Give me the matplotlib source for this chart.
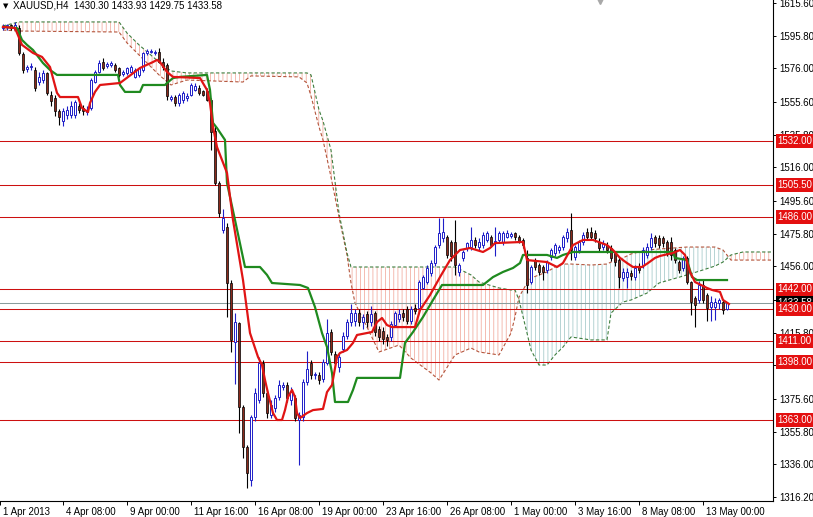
import numpy as np
import matplotlib
matplotlib.use('Agg')
import matplotlib.pyplot as plt
from matplotlib.transforms import ScaledTranslation, blended_transform_factory

# XAUUSD H4 candles, one entry per bar
opens = [1600.5, 1600.8, 1602, 1600, 1600.5, 1584.7, 1575.5, 1576.5, 1575, 1568,
         1569, 1573, 1560, 1558, 1550, 1544, 1548, 1548, 1547.7, 1553,
         1552, 1549.5, 1552, 1568, 1574, 1580, 1577.5, 1578, 1578, 1576,
         1572.5, 1573, 1574, 1571, 1572, 1575, 1585.5, 1586, 1585.5, 1586,
         1580, 1578, 1557.5, 1558.6, 1555, 1557, 1558, 1560, 1563, 1564,
         1562, 1562.5, 1557, 1538, 1506.5, 1478, 1480, 1446, 1410, 1421.7,
         1370.8, 1346.5, 1326.5, 1364.7, 1375, 1397.4, 1379, 1366, 1370, 1377,
         1383, 1384, 1375, 1376, 1363, 1364.7, 1386, 1397.4, 1390, 1390,
         1388, 1397.4, 1416, 1403, 1395, 1406, 1414, 1422, 1423, 1428,
         1422, 1427, 1422, 1427.7, 1418, 1417, 1413, 1413, 1420.6, 1424,
         1428, 1430, 1423, 1431, 1430.7, 1443, 1446.5, 1452, 1458, 1469,
         1473.2, 1473.8, 1470.8, 1470.8, 1452.6, 1461, 1467, 1467.7, 1472, 1467.7,
         1469, 1472, 1473.8, 1470.8, 1472, 1470.8, 1473.8, 1474.5, 1476.2, 1473.8,
         1472, 1461.1, 1446.5, 1459.8, 1456.8, 1455.6, 1453.8, 1461.7, 1464.1, 1466,
         1467.7, 1473.2, 1478, 1461.7, 1466, 1470.8, 1476.8, 1477, 1476, 1471,
         1467.7, 1469, 1467, 1464, 1459.8, 1449, 1449.5, 1452, 1449.5, 1455.6,
         1456.8, 1462.9, 1467.7, 1473.8, 1473.2, 1473.2, 1470.8, 1470.8, 1465.9, 1458.6,
         1455, 1461.1, 1446.5, 1436.8, 1435.6, 1444.7, 1438.6, 1431.3, 1431.3, 1434,
         1434.4, 1430.30]
highs = [1603, 1603, 1603, 1604, 1602, 1586, 1578, 1579, 1577, 1574,
         1575, 1574, 1562, 1560, 1551.5, 1552, 1553, 1556, 1557, 1555,
         1554, 1553, 1570, 1575, 1581, 1582, 1580, 1580.5, 1579.5, 1577,
         1575, 1577, 1578, 1576, 1577, 1586, 1588, 1587.5, 1587, 1588.5,
         1582, 1579, 1560, 1560, 1561, 1562, 1561, 1567, 1567, 1566,
         1563, 1564, 1558, 1541, 1508, 1491, 1482, 1448, 1427.7, 1422,
         1372, 1348, 1366, 1382, 1401, 1399, 1381, 1375, 1378, 1387,
         1386, 1386, 1383, 1378, 1368, 1388, 1405, 1399, 1392, 1392,
         1400, 1424, 1418, 1405, 1403, 1416, 1424, 1433, 1430, 1430,
         1427, 1429, 1432, 1429, 1420, 1419, 1415, 1423, 1429, 1430,
         1430, 1432, 1432, 1433, 1448, 1451, 1457, 1460, 1469, 1485.3,
         1485.3, 1475, 1472, 1484, 1458, 1466, 1471, 1480, 1474, 1473,
         1477, 1477.5, 1475, 1480, 1477.5, 1477.5, 1478, 1477, 1477, 1475,
         1473, 1466, 1457, 1461, 1458, 1457, 1460, 1467, 1470, 1469,
         1475, 1479, 1488.3, 1469, 1472, 1477, 1479, 1480, 1478, 1473,
         1472, 1471, 1469, 1465, 1461, 1455, 1455, 1454, 1457, 1458,
         1468, 1470, 1476, 1475, 1475, 1474.5, 1472, 1474, 1467, 1460,
         1462, 1462, 1447, 1438, 1447, 1448, 1440, 1438, 1437, 1437,
         1436, 1433.93]
lows = [1599, 1599.5, 1599, 1599.5, 1584, 1573, 1574, 1575, 1562, 1566,
        1567, 1560, 1553, 1547, 1541.7, 1541, 1545, 1546, 1546, 1549,
        1548, 1548, 1551, 1567, 1573, 1575, 1576, 1577, 1574, 1571,
        1571.5, 1572, 1573, 1570, 1571, 1574, 1584, 1585, 1584, 1579,
        1575, 1557, 1556, 1553, 1553, 1555, 1556, 1559, 1562, 1560,
        1559, 1556, 1526.5, 1505, 1486, 1476, 1425, 1404, 1385, 1355,
        1340, 1321.7, 1323, 1362, 1373, 1377, 1364, 1364, 1368, 1375,
        1381, 1374, 1372, 1362, 1335.6, 1362, 1384, 1388, 1388, 1385,
        1386, 1396, 1402, 1396, 1392, 1404, 1412, 1420, 1420, 1420,
        1418, 1419, 1420, 1414, 1411, 1409, 1408, 1411, 1419, 1422,
        1423, 1421, 1421, 1427, 1429, 1442, 1445, 1450, 1456, 1467,
        1471, 1461, 1459, 1451, 1450, 1459, 1465, 1466, 1467, 1466,
        1467, 1471, 1468, 1462, 1471, 1469, 1473, 1473, 1472, 1470,
        1467, 1440, 1445, 1454, 1451, 1447.7, 1452, 1460, 1462, 1464,
        1466, 1471, 1459.8, 1460, 1464, 1469, 1472, 1472, 1471, 1465,
        1466, 1464, 1459, 1456, 1442.9, 1447, 1443, 1448, 1448, 1452,
        1455, 1461, 1466, 1468, 1467, 1468, 1462, 1460, 1458, 1452,
        1453, 1445, 1426.5, 1419.2, 1434, 1434, 1423, 1423, 1423.5, 1430,
        1427, 1429.75]
closes = [1601.5, 1602, 1600.5, 1602.5, 1585.3, 1575, 1576.5, 1577.5, 1564, 1571,
          1573, 1561, 1556, 1550, 1546.5, 1550, 1551, 1553, 1555.6, 1551,
          1550, 1551, 1569, 1573.8, 1579, 1576, 1578.5, 1579, 1575, 1572,
          1573.5, 1576, 1577, 1575, 1576, 1585, 1586.5, 1586.5, 1586, 1580,
          1577, 1559, 1558.5, 1555, 1560, 1561, 1559, 1566, 1565, 1561,
          1560, 1557, 1537.4, 1506.5, 1488.5, 1485, 1446, 1411.4, 1422, 1370.8,
          1346.5, 1330.8, 1364.7, 1379, 1397.4, 1379, 1367, 1372, 1376, 1384,
          1384, 1376, 1380, 1364, 1366, 1386, 1394, 1390, 1390.5, 1387,
          1398, 1415.6, 1404, 1397.4, 1401, 1414, 1422, 1427.7, 1428, 1422,
          1425, 1422, 1427, 1416, 1413, 1412, 1411.5, 1421, 1427.7, 1427,
          1425, 1423, 1430, 1429, 1446.5, 1449.5, 1455, 1458, 1467.7, 1476.2,
          1476.8, 1462.9, 1462, 1456.8, 1456.8, 1464.7, 1470, 1472, 1469, 1470.8,
          1475, 1476.2, 1469, 1471.5, 1476.2, 1476.2, 1476.2, 1475.5, 1473.8, 1470.8,
          1469, 1444.7, 1455.6, 1455.6, 1452.6, 1452.6, 1458.6, 1465.9, 1468.9, 1467.7,
          1473.8, 1476.8, 1466, 1467.7, 1470.8, 1475, 1473.8, 1474, 1473, 1467,
          1470, 1466, 1461, 1458.6, 1449.5, 1452.6, 1452.6, 1450, 1455, 1453.8,
          1465.9, 1467.7, 1473.2, 1470.1, 1468.9, 1470.1, 1464.1, 1462.9, 1459.8, 1453.8,
          1461.1, 1446.5, 1434.4, 1432.5, 1444.7, 1435.6, 1430.7, 1434.4, 1434.4, 1435.6,
          1429.5, 1433.58]

# Ichimoku lines, as vertices (bar position, price)
tenkan_bar = [0, 3, 4.75, 7.5, 9.75, 11.75, 13.5, 14.25, 18.75, 19.75,
              21.25, 21.75, 23, 24.25, 29.25, 34.25, 37.5, 38.5, 39.25, 41,
              42.5, 49.25, 51, 51.75, 52.5, 53.5, 56, 57.5, 60, 61.75,
              63.75, 64.75, 65.5, 66.25, 67.5, 68.5, 69.75, 70.5, 71.25, 72.25,
              73, 73.5, 74.25, 76, 77.5, 80, 81, 82.25, 83.5, 84.25,
              86, 87.5, 88.5, 92.25, 93.5, 94.75, 96, 97.25, 103, 104.25,
              106.75, 109.25, 111.75, 114.25, 116.75, 120, 121.75, 123, 130, 131,
              136, 138.5, 140, 142.5, 145, 147.5, 151, 152.5, 154.25, 156,
              157.5, 159.75, 161.25, 163, 164.25, 167.5, 169.25, 170.5, 171.75, 173,
              176, 177.25, 179.25, 180, 181.5]
tenkan_val = [1601.1, 1600.4, 1590.2, 1585.3, 1582.9, 1576.8, 1561.1, 1558.6, 1558.6, 1552.0,
              1549.5, 1555.0, 1561.7, 1565.9, 1567.1, 1576.2, 1579.8, 1581.1, 1579.8, 1573.8,
              1570.8, 1570.1, 1562.9, 1555.0, 1540.5, 1528.3, 1512.6, 1484.1, 1447.7, 1415.6,
              1401.1, 1396.2, 1387.1, 1379.2, 1367.1, 1362.9, 1362.9, 1368.9, 1376.8, 1381.1,
              1376.8, 1367.1, 1364.1, 1367.1, 1368.9, 1369.6, 1379.8, 1384.1, 1401.1, 1403.5,
              1405.3, 1409.6, 1414.4, 1416.2, 1422.2, 1424.7, 1420.4, 1419.2, 1419.2, 1429.5,
              1438.6, 1449.5, 1459.8, 1465.9, 1467.1, 1464.7, 1467.1, 1470.1, 1470.8, 1459.8,
              1458.6, 1455.6, 1458.0, 1468.9, 1472.0, 1472.0, 1468.9, 1465.9, 1461.1, 1458.0,
              1455.6, 1455.6, 1458.0, 1461.1, 1462.3, 1464.1, 1465.9, 1462.9, 1452.6, 1446.5,
              1442.9, 1441.7, 1440.5, 1435.6, 1433.2]
kijun_bar = [0, 3.5, 4.75, 6, 7.5, 10, 11.75, 13.5, 28.75, 29.25,
             30.5, 34.25, 35, 40.5, 41, 42.5, 44.25, 51, 51.75, 52.5,
             53.5, 55.5, 56, 58, 60.5, 64.25, 66, 67.25, 74.25, 76.25,
             78, 79.75, 81, 82.25, 83, 86.25, 87.5, 88.5, 99.25, 100.5,
             102.5, 105, 107.5, 109.75, 120, 122.5, 125, 127.5, 129.25, 130,
             136, 138.5, 140, 142.5, 167.5, 168, 171, 172.25, 173.5, 181]
kijun_val = [1601.1, 1600.4, 1593.2, 1590.2, 1587.1, 1579.2, 1575.0, 1572.0, 1572.0, 1565.9,
             1561.7, 1561.7, 1565.9, 1565.9, 1567.1, 1570.1, 1570.8, 1572.0, 1562.9, 1542.9,
             1539.8, 1532.6, 1506.5, 1484.1, 1455.6, 1455.6, 1450.8, 1445.9, 1444.7, 1442.9,
             1431.3, 1415.6, 1407.1, 1391.4, 1373.8, 1373.8, 1381.1, 1388.4, 1388.4, 1409.6,
             1416.2, 1425.3, 1435.6, 1444.7, 1444.7, 1449.5, 1452.6, 1455.0, 1458.0, 1462.9,
             1462.9, 1461.1, 1462.9, 1464.7, 1464.7, 1461.1, 1459.8, 1449.5, 1447.7, 1447.7]

# cloud (senkou span A / B), shifted 26 bars forward
cloud_bar = [0, 4, 29, 31, 34, 39, 42, 46, 60, 62,
             74, 76, 77, 79, 80, 82, 84, 86, 87, 88,
             91, 94, 99, 102, 107, 109, 113, 117, 119, 124,
             127, 128, 129, 131, 132, 134, 136, 138, 140, 142,
             147, 151, 152, 155, 157, 161, 164, 171, 175, 178,
             180, 182, 185, 192]
span_a = [1599.2, 1598.6, 1598.0, 1591.4, 1584.1, 1572.0, 1565.9, 1568.9, 1567.7, 1571.4,
          1570.8, 1567.1, 1559.2, 1540.5, 1532.6, 1510.1, 1485.9, 1462.9, 1445.9, 1433.8,
          1419.2, 1404.1, 1408.3, 1400.4, 1391.4, 1387.1, 1402.3, 1406.5, 1404.1, 1402.3,
          1415.6, 1425.3, 1437.4, 1445.9, 1448.9, 1450.8, 1452.6, 1455.6, 1457.4, 1457.4,
          1456.8, 1457.4, 1458.6, 1461.1, 1463.5, 1465.9, 1466.5, 1467.7, 1467.7, 1467.7,
          1465.9, 1459.8, 1459.8, 1459.8]
span_b = [1601.7, 1604.1, 1604.1, 1597.4, 1590.2, 1579.8, 1574.4, 1573.2, 1573.2, 1573.2,
          1573.2, 1573.2, 1572.0, 1550.8, 1544.1, 1526.5, 1488.3, 1464.1, 1455.6, 1455.6,
          1455.6, 1455.6, 1455.6, 1455.6, 1455.6, 1455.6, 1455.6, 1450.8, 1446.5, 1442.9,
          1441.7, 1441.7, 1435.6, 1415.6, 1405.3, 1396.2, 1396.2, 1402.3, 1407.1, 1413.2,
          1411.4, 1411.4, 1427.7, 1434.4, 1435.6, 1439.8, 1445.9, 1450.8, 1453.8, 1456.2,
          1458.6, 1462.9, 1464.7, 1464.7]

levels = [1532.00, 1505.50, 1486.00, 1442.00, 1430.00, 1411.00, 1398.00, 1363.00]
last_price = 1433.58
price_ticks = [1615.60, 1595.80, 1576.00, 1555.60, 1535.80, 1516.00, 1495.60, 1475.80,
               1456.00, 1435.60, 1415.80, 1396.00, 1375.60, 1355.80, 1336.00, 1316.20]
date_bars = [-0.75, 15, 31, 47, 63, 79, 95, 111, 127, 143, 159, 175]
date_labels = ['1 Apr 2013', '4 Apr 08:00', '9 Apr 00:00', '11 Apr 16:00', '16 Apr 08:00',
               '19 Apr 00:00', '23 Apr 16:00', '26 Apr 08:00', '1 May 00:00', '3 May 16:00',
               '8 May 08:00', '13 May 00:00']
title = 'XAUUSD,H4  1430.30 1433.93 1429.75 1433.58'

plt.rcParams['font.family'] = ['Liberation Sans', 'DejaVu Sans']
plt.rcParams['hatch.linewidth'] = 0.6

W, H = 813, 517
fig = plt.figure(figsize=(W / 100, H / 100), dpi=100)
ax = fig.add_axes([0, 16 / H, 773 / W, 501 / H])
ax.set_xlim(-0.75, 192.5)
ax.set_ylim(1313.8, 1617.4)

# cloud hatch
ca = np.array(span_a)
cb = np.array(span_b)
ax.fill_between(cloud_bar, ca, cb, where=cb >= ca, interpolate=True,
                facecolor='none', edgecolor='#f2b0a4', hatch='||||', linewidth=0, zorder=1)
ax.fill_between(cloud_bar, ca, cb, where=ca >= cb, interpolate=True,
                facecolor='none', edgecolor='#a9cccc', hatch='||||', linewidth=0, zorder=1)
ax.plot(cloud_bar, span_a, color='#b4553c', lw=0.8, ls=(0, (3, 2)), zorder=2)
ax.plot(cloud_bar, span_b, color='#3f7f3f', lw=0.8, ls=(0, (3, 2)), zorder=2)

# horizontal levels
for lv in levels:
    ax.axhline(lv, color='#cc1010', lw=0.75, zorder=2)
ax.axhline(last_price, color='#8a9c9c', lw=0.75, zorder=2)

# candles
bars = np.arange(len(opens))
o = np.array(opens)
c = np.array(closes)
up = c >= o
bull, bear = '#1e1ec8', '#8a2a1c'
ax.vlines(bars[up], np.array(lows)[up], np.array(highs)[up], color=bull, lw=0.8, zorder=3)
ax.vlines(bars[~up], np.array(lows)[~up], np.array(highs)[~up], color='black', lw=0.8, zorder=3)
body = np.maximum(np.abs(c - o), 0.4)
ax.bar(bars[up], body[up], bottom=np.minimum(o, c)[up], width=0.62,
       facecolor='white', edgecolor=bull, linewidth=0.7, zorder=3.1)
ax.bar(bars[~up], body[~up], bottom=np.minimum(o, c)[~up], width=0.62,
       facecolor=bear, edgecolor='black', linewidth=0.5, zorder=3.1)

# tenkan / kijun
ax.plot(kijun_bar, kijun_val, color='#1f8a1f', lw=1.6, zorder=4)
ax.plot(tenkan_bar, tenkan_val, color='#e01414', lw=1.6, zorder=4.1)

# axes styling
for s in ['top', 'left']:
    ax.spines[s].set_visible(False)
for s in ['right', 'bottom']:
    ax.spines[s].set_linewidth(0.8)
    ax.spines[s].set_color('black')
ax.yaxis.tick_right()
ax.set_yticks(price_ticks)
ax.set_yticklabels(['%.2f' % t for t in price_ticks])
ax.tick_params(axis='y', direction='out', length=2.5, width=0.7, pad=2, labelsize=7)
ax.set_xticks(date_bars)
ax.set_xticklabels(date_labels)
ax.tick_params(axis='x', direction='out', length=3, width=0.7, pad=1.5, labelsize=7)
shift = ScaledTranslation(2 / 72, 0, fig.dpi_scale_trans)
for lab in ax.get_xticklabels():
    lab.set_horizontalalignment('left')
    lab.set_transform(lab.get_transform() + shift)

# price labels on the right scale
tr = blended_transform_factory(ax.transAxes, ax.transData)
ax.text(1.006, last_price, '%.2f' % last_price, transform=tr, ha='left', va='center',
        color='white', fontsize=7, zorder=5, clip_on=False,
        bbox=dict(boxstyle='square,pad=0.2', fc='black', ec='none'))
for lv in levels:
    ax.text(1.006, lv, '%.2f' % lv, transform=tr, ha='left', va='center',
            color='white', fontsize=7, zorder=6, clip_on=False,
            bbox=dict(boxstyle='square,pad=0.2', fc='#e41010', ec='none'))

# header
fig.text(3 / W, 1 - 6 / H, '\u25bc', fontsize=5, va='center', ha='left',
         family=['DejaVu Sans'])
fig.text(13 / W, 1 - 6 / H, title, fontsize=7, va='center', ha='left')
ax.plot([600 / 773], [1.0], transform=ax.transAxes, marker='v', ms=6,
        color='#a8a8a8', clip_on=False, zorder=6)

fig.savefig('out.png', dpi=100)
